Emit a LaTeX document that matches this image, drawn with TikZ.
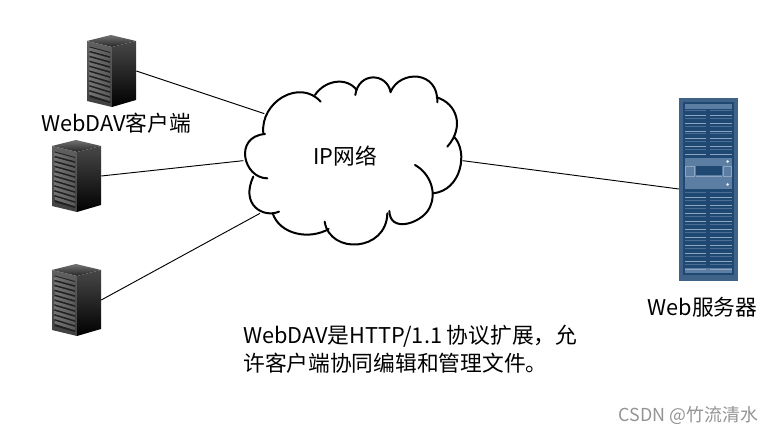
\documentclass[tikz,border=0pt]{standalone}
\usepackage{fontspec}
\setmainfont{Noto Sans CJK SC}
\usetikzlibrary{positioning,calc}
\definecolor{rackblue}{HTML}{3F6288}
\definecolor{rackdark}{HTML}{1F4873}
\definecolor{rackmid}{HTML}{5C7EA3}
\definecolor{racklight}{HTML}{8DA5C0}

\begin{document}
\begin{tikzpicture}[x=0.75pt, y=-0.75pt, font=\fontsize{16.3}{21}\selectfont,
    srvbox/.style={minimum width=36.75pt, minimum height=54pt, inner sep=0pt},
    webbox/.style={minimum width=44pt, minimum height=137pt, inner sep=0pt},
    link/.style={draw, line width=0.7pt},
    lobe/.style={draw, line width=1.5pt, line cap=round},
    srvrack/.pic={
      \shade[top color=black!55, bottom color=black!85] (0,6) -- (24,0) -- (49,6) -- (25,12) -- cycle;
      \shade[top color=black!62, bottom color=black!75] (0,6) -- (25,12) -- (25,72) -- (0,66) -- cycle;
      \shade[top color=black!72, bottom color=black] (25,12) -- (49,6) -- (49,65) -- (25,72) -- cycle;
      \fill[black!88] (2.5,11.5) -- (23,17) -- (23,68) -- (2.5,62) -- cycle;
      \foreach \i in {0,...,9}
        \shade[left color=black!55, middle color=black!12, right color=black!65]
          (2.5,{12.5+4.9*\i}) -- (23,{18+5*\i}) -- (23,{21.2+5*\i}) -- (2.5,{15.7+4.9*\i}) -- cycle;
    }]
  \path[use as bounding box, fill=white] (0,0) rectangle (772,434);

  % clients
  \node[srvbox] (srvA) at (111.5,71) {};
  \node[srvbox] (srvB) at (76.5,176) {};
  \node[srvbox] (srvC) at (76.5,300) {};
  \pic at (87,35) {srvrack};
  \pic at (52,140) {srvrack};
  \pic at (52,264) {srvrack};
  \node (srvlabel) at (116,123) {WebDAV客户端};

  % the cloud, one arc per lobe
  \begin{scope}[shift={(230,65)}, x=0.25pt, y=-0.25pt]
    \draw[lobe] (100,205) .. controls (90,110) and (210,40) .. (272,110);
    \draw[lobe] (255,90) .. controls (285,45) and (350,35) .. (380,75);
    \draw[lobe] (376,90) .. controls (385,21) and (470,21) .. (482,82);
    \draw[lobe] (482,80) .. controls (510,15) and (625,15) .. (622,112);
    \draw[lobe] (620,97) .. controls (680,115) and (705,185) .. (652,245);
    \draw[lobe] (672,215) .. controls (715,260) and (695,375) .. (610,385);
    \draw[lobe] (555,300) .. controls (600,325) and (625,385) .. (595,435)
                .. controls (570,475) and (480,505) .. (478,438);
    \draw[lobe] (472,445) .. controls (470,560) and (300,570) .. (284,470);
    \draw[lobe] (296,492) .. controls (240,525) and (150,510) .. (128,445);
    \draw[lobe] (147,440) .. controls (100,460) and (30,420) .. (70,335);
    \draw[lobe] (112,340) .. controls (40,340) and (10,215) .. (105,207);
    \coordinate (netA) at (103,146);
    \coordinate (netB) at (40,287);
    \coordinate (netC) at (90,445);
    \coordinate (netD) at (698,287);
  \end{scope}
  \node (netlabel) at (345,156) {IP网络};

  % web server
  \node[webbox] (web) at (708.5,189) {};
  \fill[rackblue] (679,98) rectangle (738,281);
  \fill[rackdark] (683,102) rectangle (734,275);
  \fill[rackmid] (685,104) rectangle (732,109);
  \fill[rackmid] (685,268) rectangle (732,273);
  \foreach \y in {110,118,126,133,141,149,192,200,208,216,224,232,240,248,256,264} {
    \fill[rackmid!70!rackdark] (685,\y) rectangle (706,\y+1.5);
    \fill[rackmid!70!rackdark] (710,\y) rectangle (732,\y+1.5);
    \fill[racklight] (685,\y+5) rectangle (706,\y+6);
    \fill[racklight] (710,\y+5) rectangle (732,\y+6);
  }
  \fill[rackmid] (685,158) rectangle (732,189);
  \fill[rackdark] (696,166) rectangle (722,175);
  \draw[racklight, line width=0.6pt] (685.5,166) rectangle (694,176);
  \draw[racklight, line width=0.6pt] (723,166) rectangle (731.5,176);
  \draw[racklight, line width=0.8pt] (696,176.5) -- (722,176.5);
  \fill[white!85!rackblue] (727.5,161.5) circle (1.5);
  \fill[white!85!rackblue] (727.5,184.5) circle (1.5);
  \node (weblabel) at (702.5,307) {Web服务器};

  % connectors
  \draw[link] (srvA.east) -- (netA);
  \draw[link] (srvB.east) -- (netB);
  \draw[link] (srvC.east) -- (netC);
  \draw[link] (netD) -- (web.west);

  \node[align=left, anchor=north west, inner sep=0pt, font=\fontsize{16.3}{20.6}\selectfont] (note) at (243,325)
       {WebDAV是HTTP/1.1 协议扩展，允\\ 许客户端协同编辑和管理文件。};
  \node[text=black!42, font=\fontsize{13.4}{15}\selectfont] (mark) at (688.5,416) {CSDN @竹流清水};
\end{tikzpicture}
\end{document}
